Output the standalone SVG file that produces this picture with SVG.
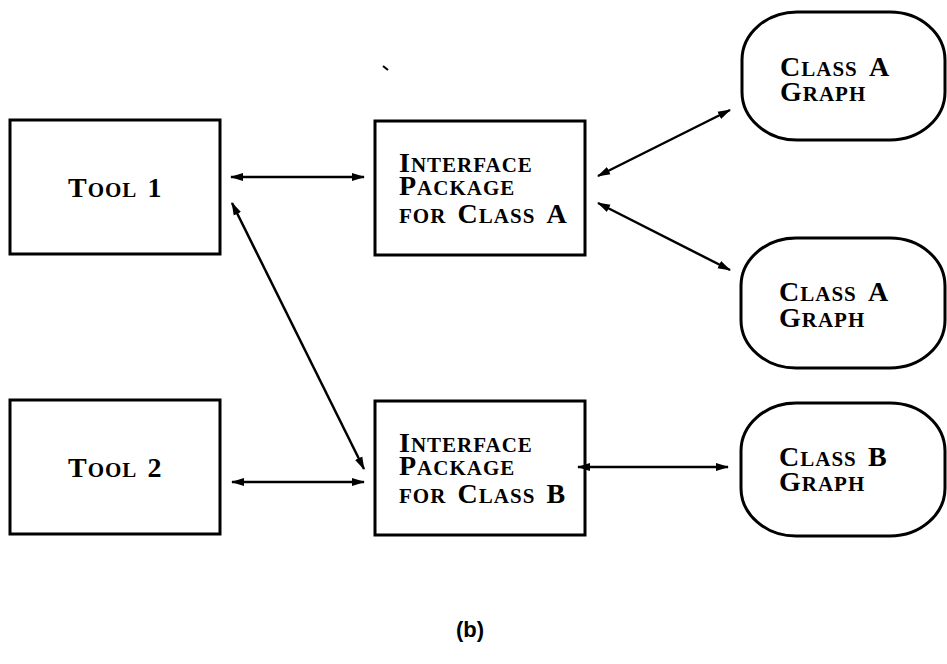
<svg xmlns="http://www.w3.org/2000/svg" width="947" height="664" viewBox="0 0 947 664">
<style>
.box{fill:#fff;stroke:#000;stroke-width:3}
.t{font-family:"Liberation Serif","DejaVu Serif",serif;font-weight:bold;font-size:21px;letter-spacing:1px;word-spacing:5px;fill:#000}
.b{font-size:28px}
.cn{stroke:#000;stroke-width:2.5;fill:none;marker-start:url(#ah);marker-end:url(#ah)}
.cap{font-family:"Liberation Sans",Arial,sans-serif;font-weight:bold;font-size:22px;fill:#000}
</style>
<defs>
<marker id="ah" viewBox="0 0 13 10" refX="12" refY="5" markerWidth="13" markerHeight="10" markerUnits="userSpaceOnUse" orient="auto-start-reverse">
<path d="M0,1 L13,5 L0,9 Z" fill="#000"/>
</marker>
</defs>
<rect width="947" height="664" fill="#fff"/>
<g id="tool1">
<rect class="box" x="10" y="120" width="210" height="134"/>
<text class="t" x="68" y="197"><tspan class="b">T</tspan>OOL <tspan class="b">1</tspan></text>
</g>
<g id="tool2">
<rect class="box" x="10" y="400" width="210" height="134"/>
<text class="t" x="68" y="477"><tspan class="b">T</tspan>OOL <tspan class="b">2</tspan></text>
</g>
<g id="ifaceA">
<rect class="box" x="375" y="121" width="210" height="134"/>
<text class="t"><tspan x="399" y="172"><tspan class="b">I</tspan>NTERFACE</tspan><tspan x="399" y="195"><tspan class="b">P</tspan>ACKAGE</tspan><tspan x="399" y="223">FOR <tspan class="b">C</tspan>LASS <tspan class="b">A</tspan></tspan></text>
</g>
<g id="ifaceB">
<rect class="box" x="375" y="401" width="210" height="134"/>
<text class="t"><tspan x="399" y="452"><tspan class="b">I</tspan>NTERFACE</tspan><tspan x="399" y="475"><tspan class="b">P</tspan>ACKAGE</tspan><tspan x="399" y="503">FOR <tspan class="b">C</tspan>LASS <tspan class="b">B</tspan></tspan></text>
</g>
<g id="graphA1">
<rect class="box" x="742" y="12" width="203" height="128" rx="55" ry="48"/>
<text class="t"><tspan x="780" y="76"><tspan class="b">C</tspan>LASS <tspan class="b">A</tspan></tspan><tspan x="780" y="101"><tspan class="b">G</tspan>RAPH</tspan></text>
</g>
<g id="graphA2">
<rect class="box" x="741" y="238" width="204" height="130" rx="55" ry="48"/>
<text class="t"><tspan x="779" y="301"><tspan class="b">C</tspan>LASS <tspan class="b">A</tspan></tspan><tspan x="779" y="327"><tspan class="b">G</tspan>RAPH</tspan></text>
</g>
<g id="graphB">
<rect class="box" x="741" y="403" width="204" height="133" rx="55" ry="48"/>
<text class="t"><tspan x="779" y="466"><tspan class="b">C</tspan>LASS <tspan class="b">B</tspan></tspan><tspan x="779" y="491"><tspan class="b">G</tspan>RAPH</tspan></text>
</g>
<g id="connectors">
<line class="cn" x1="231" y1="177" x2="364" y2="177"/>
<line class="cn" x1="232" y1="482" x2="364" y2="482"/>
<line class="cn" x1="232" y1="203" x2="364" y2="469"/>
<line class="cn" x1="598" y1="176" x2="730" y2="110"/>
<line class="cn" x1="598" y1="203" x2="730" y2="270"/>
<line class="cn" x1="578" y1="467" x2="728" y2="467"/>
</g>
<path d="M383,66 L388,70" stroke="#000" stroke-width="2"/>
<text class="cap" x="470" y="637" text-anchor="middle">(b)</text>
</svg>
